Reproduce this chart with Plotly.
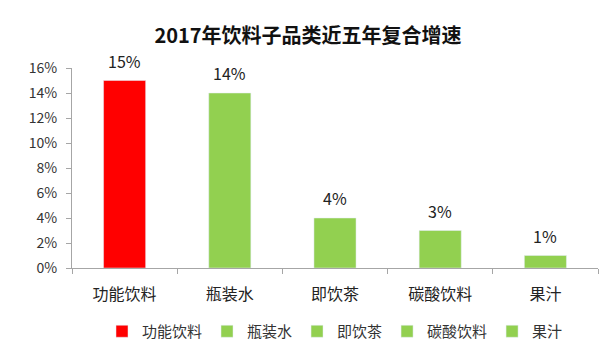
import plotly.graph_objects as go

categories = ["功能饮料", "瓶装水", "即饮茶", "碳酸饮料", "果汁"]
values = [15, 14, 4, 3, 1]
colors = ["#FF0000", "#92D050", "#92D050", "#92D050", "#92D050"]
yticks = [0, 2, 4, 6, 8, 10, 12, 14, 16]
yticktext = [f"{v}%" for v in yticks]

font_family = "Noto Sans CJK SC, Noto Sans, sans-serif"

fig = go.Figure()
for c, v, col in zip(categories, values, colors):
    fig.add_trace(go.Bar(
        x=[c], y=[v], name=c, marker_color=col, width=0.4,
    ))
    fig.add_annotation(x=c, y=v, text=f"{v}%", showarrow=False, yanchor="middle",
                       yshift=20, font=dict(size=16, color="#222222", family=font_family))

fig.update_layout(
    width=616, height=353,
    margin=dict(l=72, r=18, t=68, b=85, autoexpand=False),
    paper_bgcolor="white", plot_bgcolor="white",
    barmode="overlay",
    title=dict(text="<b>2017年饮料子品类近五年复合增速</b>", x=0.5, xanchor="center",
               y=1 - 36 / 353, yanchor="middle",
               font=dict(size=20, color="#111111", family=font_family)),
    font=dict(family=font_family, color="#333333"),
    showlegend=True,
    legend=dict(orientation="h", x=0.5, xanchor="center", y=-0.235, yanchor="top",
                font=dict(size=15, color="#333333"), itemwidth=30,
                traceorder="normal", tracegroupgap=0),
    xaxis=dict(categoryorder="array", categoryarray=categories, automargin=False,
               showline=True, linecolor="#a6a6a6", linewidth=1,
               ticks="outside", tickson="boundaries", ticklen=5, tickcolor="#a6a6a6",
               ticklabelstandoff=12,
               tickfont=dict(size=16, color="#222222"), showgrid=False),
    yaxis=dict(range=[0, 16], tickmode="array", tickvals=yticks, ticktext=yticktext,
               automargin=False,
               showline=True, linecolor="#a6a6a6", linewidth=1,
               ticks="outside", ticklen=5, tickcolor="#a6a6a6", ticklabelstandoff=6,
               tickfont=dict(size=14, color="#333333"), showgrid=False, zeroline=False),
)

fig.write_html("out.html")
